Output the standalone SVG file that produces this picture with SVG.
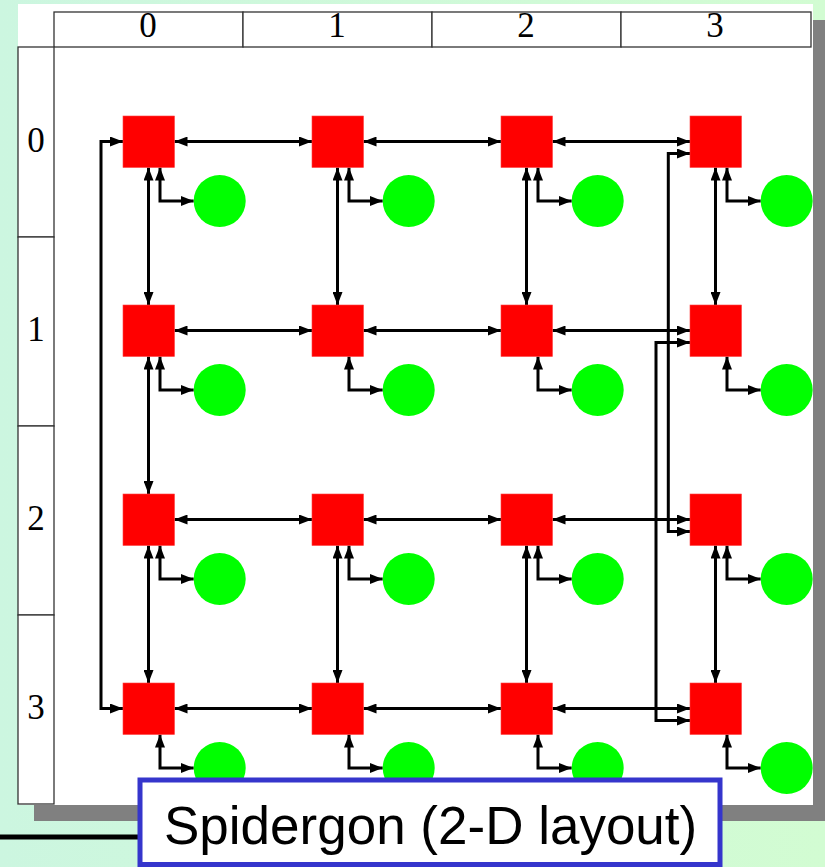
<svg xmlns="http://www.w3.org/2000/svg" width="825" height="867" viewBox="0 0 825 867">
<defs>
<linearGradient id="bg" x1="0" y1="0" x2="1" y2="0">
<stop offset="0" stop-color="#CCF6E0"/>
<stop offset="1" stop-color="#D2FCD2"/>
</linearGradient>
<marker id="ah" viewBox="0 0 13 10" refX="13" refY="5" markerWidth="13" markerHeight="10" markerUnits="userSpaceOnUse" orient="auto-start-reverse">
<path d="M0,0 L13,5 L0,10 z" fill="#000"/>
</marker>
</defs>
<style>
.hdr{fill:#fff;stroke:#333;stroke-width:1.3}
.lbl{font-family:"Liberation Serif","Times New Roman",serif;font-size:35px;fill:#000;text-anchor:middle}
.c{fill:none;stroke:#000;stroke-width:3;marker-start:url(#ah);marker-end:url(#ah)}
.sq{fill:#FF0000;stroke:#FF4040;stroke-width:0.6}
.ci{fill:#00FF00}
</style>
<rect x="0" y="0" width="825" height="867" fill="url(#bg)"/>
<rect x="34" y="20" width="800" height="801" fill="#808080"/>
<rect x="18" y="4" width="795" height="801" fill="#fff"/>
<g id="headers">
<rect class="hdr" x="54" y="12" width="189" height="35"/>
<rect class="hdr" x="243" y="12" width="189" height="35"/>
<rect class="hdr" x="432" y="12" width="189" height="35"/>
<rect class="hdr" x="621" y="12" width="190" height="35"/>
<rect class="hdr" x="18" y="47" width="36" height="190"/>
<rect class="hdr" x="18" y="237" width="36" height="189"/>
<rect class="hdr" x="18" y="426" width="36" height="189"/>
<rect class="hdr" x="18" y="615" width="36" height="189"/>
<text class="lbl" x="148" y="37">0</text>
<text class="lbl" x="337" y="37">1</text>
<text class="lbl" x="526" y="37">2</text>
<text class="lbl" x="715" y="37">3</text>
<text class="lbl" x="36" y="151.5">0</text>
<text class="lbl" x="36" y="340.5">1</text>
<text class="lbl" x="36" y="529.5">2</text>
<text class="lbl" x="36" y="718.5">3</text>
</g>
<g id="connectors">
<path class="c" d="M174.5,141.5 H312"/>
<path class="c" d="M363.5,141.5 H501"/>
<path class="c" d="M552.5,141.5 H690"/>
<path class="c" d="M174.5,330.5 H312"/>
<path class="c" d="M363.5,330.5 H501"/>
<path class="c" d="M552.5,330.5 H690"/>
<path class="c" d="M174.5,519.5 H312"/>
<path class="c" d="M363.5,519.5 H501"/>
<path class="c" d="M552.5,519.5 H690"/>
<path class="c" d="M174.5,708.5 H312"/>
<path class="c" d="M363.5,708.5 H501"/>
<path class="c" d="M552.5,708.5 H690"/>
<path class="c" d="M148.5,167.5 V305"/>
<path class="c" d="M148.5,356.5 V494"/>
<path class="c" d="M148.5,545.5 V683"/>
<path class="c" d="M337.5,167.5 V305"/>
<path class="c" d="M337.5,545.5 V683"/>
<path class="c" d="M526.5,167.5 V305"/>
<path class="c" d="M526.5,545.5 V683"/>
<path class="c" d="M715.5,167.5 V305"/>
<path class="c" d="M715.5,545.5 V683"/>
<path class="c" d="M123,141.5 H101 V708.5 H123"/>
<path class="c" d="M690,153.5 H668.3 V531.5 H690"/>
<path class="c" d="M690,342.5 H656 V720.5 H690"/>
<path class="c" d="M160,167.5 V201 H193.7"/>
<path class="c" d="M349,167.5 V201 H382.7"/>
<path class="c" d="M538,167.5 V201 H571.7"/>
<path class="c" d="M727,167.5 V201 H760.7"/>
<path class="c" d="M160,356.5 V390 H193.7"/>
<path class="c" d="M349,356.5 V390 H382.7"/>
<path class="c" d="M538,356.5 V390 H571.7"/>
<path class="c" d="M727,356.5 V390 H760.7"/>
<path class="c" d="M160,545.5 V579 H193.7"/>
<path class="c" d="M349,545.5 V579 H382.7"/>
<path class="c" d="M538,545.5 V579 H571.7"/>
<path class="c" d="M727,545.5 V579 H760.7"/>
<path class="c" d="M160,734.5 V768 H193.7"/>
<path class="c" d="M349,734.5 V768 H382.7"/>
<path class="c" d="M538,734.5 V768 H571.7"/>
<path class="c" d="M727,734.5 V768 H760.7"/>
</g>
<g id="n00"><rect class="sq" x="123" y="116" width="51.5" height="51.5"/><circle class="ci" cx="219.7" cy="201" r="26"/></g>
<g id="n01"><rect class="sq" x="312" y="116" width="51.5" height="51.5"/><circle class="ci" cx="408.7" cy="201" r="26"/></g>
<g id="n02"><rect class="sq" x="501" y="116" width="51.5" height="51.5"/><circle class="ci" cx="597.7" cy="201" r="26"/></g>
<g id="n03"><rect class="sq" x="690" y="116" width="51.5" height="51.5"/><circle class="ci" cx="786.7" cy="201" r="26"/></g>
<g id="n10"><rect class="sq" x="123" y="305" width="51.5" height="51.5"/><circle class="ci" cx="219.7" cy="390" r="26"/></g>
<g id="n11"><rect class="sq" x="312" y="305" width="51.5" height="51.5"/><circle class="ci" cx="408.7" cy="390" r="26"/></g>
<g id="n12"><rect class="sq" x="501" y="305" width="51.5" height="51.5"/><circle class="ci" cx="597.7" cy="390" r="26"/></g>
<g id="n13"><rect class="sq" x="690" y="305" width="51.5" height="51.5"/><circle class="ci" cx="786.7" cy="390" r="26"/></g>
<g id="n20"><rect class="sq" x="123" y="494" width="51.5" height="51.5"/><circle class="ci" cx="219.7" cy="579" r="26"/></g>
<g id="n21"><rect class="sq" x="312" y="494" width="51.5" height="51.5"/><circle class="ci" cx="408.7" cy="579" r="26"/></g>
<g id="n22"><rect class="sq" x="501" y="494" width="51.5" height="51.5"/><circle class="ci" cx="597.7" cy="579" r="26"/></g>
<g id="n23"><rect class="sq" x="690" y="494" width="51.5" height="51.5"/><circle class="ci" cx="786.7" cy="579" r="26"/></g>
<g id="n30"><rect class="sq" x="123" y="683" width="51.5" height="51.5"/><circle class="ci" cx="219.7" cy="768" r="26"/></g>
<g id="n31"><rect class="sq" x="312" y="683" width="51.5" height="51.5"/><circle class="ci" cx="408.7" cy="768" r="26"/></g>
<g id="n32"><rect class="sq" x="501" y="683" width="51.5" height="51.5"/><circle class="ci" cx="597.7" cy="768" r="26"/></g>
<g id="n33"><rect class="sq" x="690" y="683" width="51.5" height="51.5"/><circle class="ci" cx="786.7" cy="768" r="26"/></g>
<line x1="0" y1="837" x2="140" y2="837" stroke="#000" stroke-width="5"/>
<g id="caption">
<rect x="140" y="780" width="580" height="84.5" fill="#fff" stroke="#3535CC" stroke-width="5"/>
<text x="164" y="844" font-family="'Liberation Sans',Arial,sans-serif" font-size="53" fill="#000">Spidergon (2-D layout)</text>
</g>
</svg>
